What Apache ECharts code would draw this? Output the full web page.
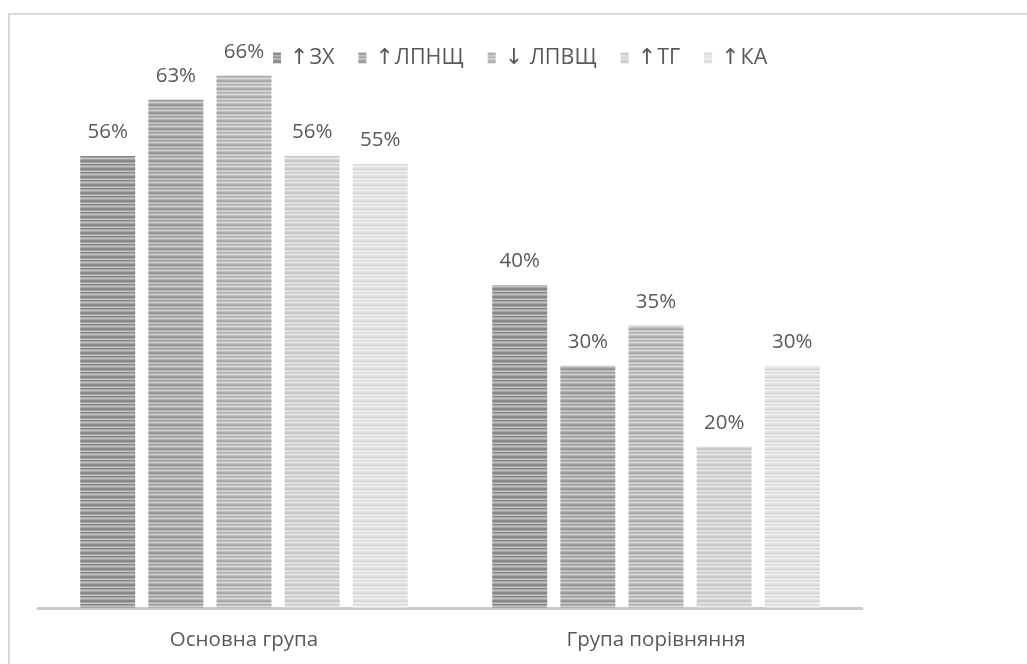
<!DOCTYPE html>
<html>
<head>
<meta charset="utf-8">
<script src="https://cdn.jsdelivr.net/npm/echarts@6/dist/echarts.min.js"></script>
<style>
html,body{margin:0;padding:0;background:#fff;}
#c{width:1027px;height:664px;}
</style>
</head>
<body>
<div id="c"></div>
<script>
const categories = ['Основна група', 'Група порівняння'];
const seriesNames = ['↑ЗХ', '↑ЛПНЩ', '↓ ЛПВЩ', '↑ТГ', '↑КА'];
const valsZX = [56, 40];
const valsLPNSch = [63, 30];
const valsLPVSch = [66, 35];
const valsTG = [56, 20];
const valsKA = [55, 30];
const seriesValues = [valsZX, valsLPNSch, valsLPVSch, valsTG, valsKA];

const shades = [
  ['#878787', '#a3a3a3', '#c6c6c6'],
  ['#989898', '#b1b1b1', '#d0d0d0'],
  ['#ababab', '#c1c1c1', '#dcdcdc'],
  ['#c9c9c9', '#d7d7d7', '#e9e9e9'],
  ['#dadada', '#e4e4e4', '#f1f1f1']
];
function makePattern(s) {
  const cv = document.createElement('canvas');
  cv.width = 4; cv.height = 8;
  const ctx = cv.getContext('2d');
  const rows = [0, 0, 1, 2, 0, 1, 2, 1];
  rows.forEach((r, i) => { ctx.fillStyle = s[r]; ctx.fillRect(0, i, 4, 1); });
  return { image: cv, repeat: 'repeat' };
}

const chart = echarts.init(document.getElementById('c'));
const font = '"Open Sans", "Noto Sans", sans-serif';
chart.setOption({
  animation: false,
  backgroundColor: '#fff',
  graphic: [{
    type: 'rect', shape: { x: 9, y: 14, width: 1040, height: 700 },
    style: { fill: 'none', stroke: '#d9d9d9', lineWidth: 2 }, z: -1
  }],
  legend: {
    left: 268, top: 42,
    itemWidth: 8, itemHeight: 11, itemGap: 24,
    icon: 'rect',
    formatter: function (name) {
      const arrow = name.charAt(0);
      const rest = name.slice(1);
      return '{a|' + arrow + '}{t|' + rest + '}';
    },
    textStyle: {
      color: '#595959', fontSize: 21, fontFamily: font, padding: [0, 0, 0, 4],
      rich: {
        a: { fontFamily: '"DejaVu Sans", sans-serif', fontSize: 22, color: '#595959', padding: [0, 1, 0, 0] },
        t: { fontFamily: font, fontSize: 21.5, color: '#595959' }
      }
    },
    data: seriesNames
  },
  grid: { left: 38, right: 165, top: 43, bottom: 56, containLabel: false },
  xAxis: {
    type: 'category', data: categories,
    axisLine: { lineStyle: { color: '#cccccc', width: 3 } },
    axisTick: { show: false },
    axisLabel: { color: '#595959', fontSize: 20.5, fontFamily: font, margin: 22 }
  },
  yAxis: {
    type: 'value', min: 0, max: 70, interval: 10,
    show: false, splitLine: { show: false }
  },
  series: seriesValues.map((vals, i) => ({
    name: seriesNames[i], type: 'bar', data: vals,
    barGap: '24%', barCategoryGap: '20.5%',
    itemStyle: { color: makePattern(shades[i]) },
    label: {
      show: true, position: 'top', distance: 13,
      formatter: '{c}%', color: '#595959', fontSize: 20.5, fontFamily: font
    }
  }))
});
</script>
</body>
</html>
